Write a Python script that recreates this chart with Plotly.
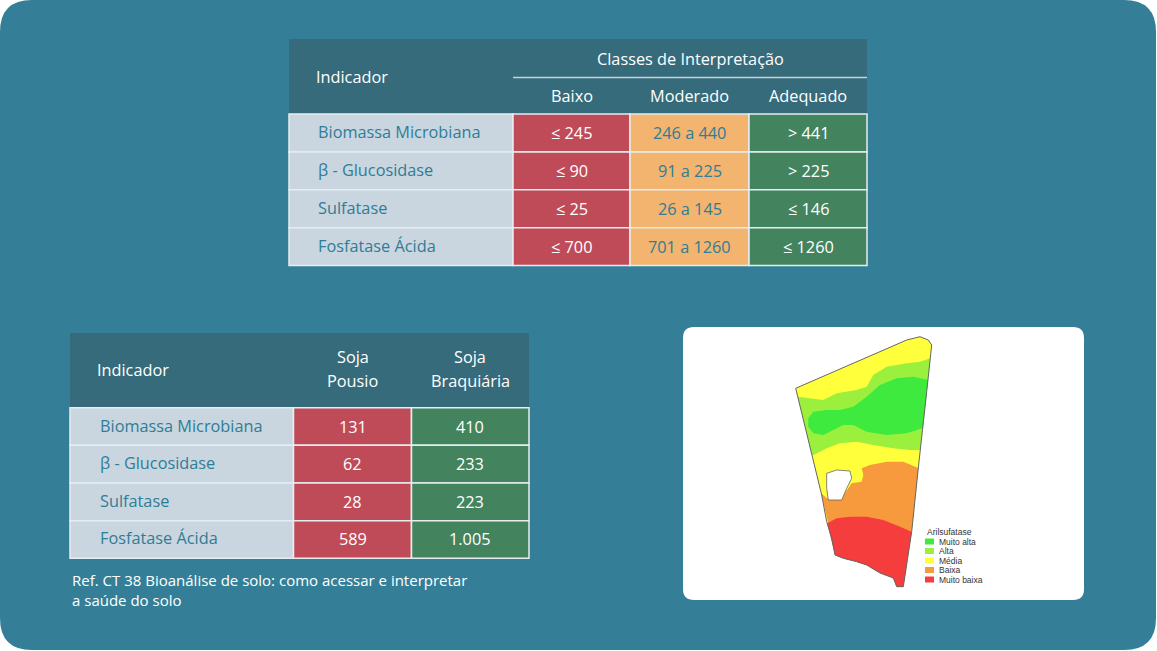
import numpy as np
import plotly.graph_objects as go

# ---- data ----
indicators = ["Biomassa Microbiana", "β - Glucosidase", "Sulfatase", "Fosfatase Ácida"]
classes = ["Baixo", "Moderado", "Adequado"]
baixo = ["≤ 245", "≤ 90", "≤ 25", "≤ 700"]
moderado = ["246 a 440", "91 a 225", "26 a 145", "701 a 1260"]
adequado = ["> 441", "> 225", "≤ 146", "≤ 1260"]
systems = [("Soja", "Pousio"), ("Soja", "Braquiária")]
soja_pousio = ["131", "62", "28", "589"]
soja_braquiaria = ["410", "233", "223", "1.005"]
map_title = "Arilsufatase"
map_classes = ["Muito alta", "Alta", "Média", "Baixa", "Muito baixa"]
reference = "Ref. CT 38 Bioanálise de solo: como acessar e interpretar<br>a saúde do solo"

# ---- map geometry (image pixels) ----
outline_left = [(795.7, 388.3), (821.7, 495), (826.7, 521.7), (831.7, 538), (835, 555)]
outline_right = [(931.7, 345), (926.7, 391.7), (918.3, 468), (911.7, 531.7), (903.3, 586.7)]
outline_top = [(795.7, 388.3), (906.7, 340), (920, 336.7), (928.3, 340), (931.7, 345)]
outline_bottom = [(903.3, 586.7), (896.7, 586.7), (893.3, 578), (880, 573), (866.7, 565),
                  (856.7, 561.7), (843.3, 558.3), (835, 555)]
lgreen_top = [(823.3, 400), (836.7, 393.3), (856.7, 390), (866.7, 386.7), (873.3, 375),
              (886.7, 366.7), (906.7, 363.3), (920, 361.7)]
lgreen_bottom = [(910, 450), (893.3, 448.3), (873.3, 445), (856.7, 441.7), (840, 443.3), (826.7, 448.3)]
green_blob = [(808.3, 418.3), (813.3, 411.7), (826.7, 410), (840, 410), (853.3, 406.7), (866.7, 396.7),
              (880, 385), (896.7, 378.3), (913.3, 376.7), (928, 380), (923, 428), (906.7, 433.3),
              (886.7, 435), (866.7, 431.7), (853.3, 425), (843.3, 425), (833.3, 430), (823.3, 435),
              (813.3, 433.3), (808.3, 426.7)]
orange_top = [(826.7, 498.3), (840, 500), (851.7, 483.3), (861.7, 481.7), (863.3, 475), (861.7, 468.3),
              (870, 465), (886.7, 461.7), (903.3, 461.7)]
red_top = [(836.7, 518.3), (850, 516.7), (866.7, 516.7), (883.3, 520), (900, 526.7)]
hole = [(826.7, 473.3), (836.7, 470), (850, 471), (851.7, 478.3), (846.7, 488.3), (841.7, 500),
        (828.3, 500), (826.7, 488.3)]

W, H = 1157, 651
TEAL = "#347f97"
HEAD = "#366b7b"
LIGHT = "#c9d5df"
TXT = "#2f7d97"
RED = "#c04b58"
ORANGE = "#f2b46e"
GREEN = "#43845f"
GRID = "#e6edf1"
FONT = "Open Sans"
FS = 16.3
map_colors = ["#3dea3d", "#9af03c", "#ffff3c", "#f7993d", "#f53d3d"]

shapes = []
annotations = []


def rounded(x0, y0, x1, y1, r):
    return (f"M {x0+r},{y0} L {x1-r},{y0} Q {x1},{y0} {x1},{y0+r} L {x1},{y1-r} Q {x1},{y1} {x1-r},{y1} "
            f"L {x0+r},{y1} Q {x0},{y1} {x0},{y1-r} L {x0},{y0+r} Q {x0},{y0} {x0+r},{y0} Z")


def poly(pts):
    return "M " + " L ".join(f"{x:.1f},{y:.1f}" for x, y in pts) + " Z"


def rect(x0, y0, x1, y1, fill, line=None, width=0):
    shapes.append(dict(type="rect", x0=x0, y0=y0, x1=x1, y1=y1, fillcolor=fill,
                       line=dict(color=line or fill, width=width), layer="above"))


def text(x, y, s, color="white", size=FS, xanchor="center", align="center"):
    annotations.append(dict(x=x, y=y, text=s, showarrow=False, xanchor=xanchor, yanchor="middle",
                            align=align, font=dict(family=FONT, size=size, color=color)))


# background panel
shapes.append(dict(type="path", path=rounded(0, 0, 1156, 650, 32), fillcolor=TEAL, line=dict(width=0),
                   layer="above"))

# ---- top table ----
tx = [289, 513, 630, 749, 867]
ty_head, ty0, rh = 39, 114, 37.9
rect(tx[0], ty_head, tx[-1], ty0, HEAD)
shapes.append(dict(type="line", x0=tx[1], x1=tx[-1], y0=77.5, y1=77.5, line=dict(color="#c4d3da", width=1.5),
                   layer="above"))
text(tx[0] + 25, 77, "Indicador", xanchor="left")
text((tx[1] + tx[-1]) / 2, 59, "Classes de Interpretação")
for j, c in enumerate(classes):
    text((tx[j + 1] + tx[j + 2]) / 2, 96, c)
cols = [(baixo, RED, "white"), (moderado, ORANGE, TXT), (adequado, GREEN, "white")]
for i, ind in enumerate(indicators):
    y0 = ty0 + i * rh
    rect(tx[0], y0, tx[1], y0 + rh, LIGHT, GRID, 1.5)
    text(tx[0] + 27, y0 + rh / 2 - 1, ind, color=TXT, xanchor="left")
    for j, (vals, fill, fc) in enumerate(cols):
        rect(tx[j + 1], y0, tx[j + 2], y0 + rh, fill, GRID, 1.5)
        text((tx[j + 1] + tx[j + 2]) / 2, y0 + rh / 2, vals[i], color=fc)

# ---- bottom table ----
bx = [70, 293.5, 411.5, 529]
by_head, by0, brh = 333, 407.7, 37.65
rect(bx[0], by_head, bx[-1], by0, HEAD)
text(bx[0] + 25, 370, "Indicador", xanchor="left")
for j, (l1, l2) in enumerate(systems):
    text((bx[j + 1] + bx[j + 2]) / 2, 357, l1)
    text((bx[j + 1] + bx[j + 2]) / 2, 381, l2)
bcols = [(soja_pousio, RED), (soja_braquiaria, GREEN)]
for i, ind in enumerate(indicators):
    y0 = by0 + i * brh
    rect(bx[0], y0, bx[1], y0 + brh, LIGHT, GRID, 1.5)
    text(bx[0] + 28, y0 + brh / 2 - 1, ind, color=TXT, xanchor="left")
    for j, (vals, fill) in enumerate(bcols):
        rect(bx[j + 1], y0, bx[j + 2], y0 + brh, fill, GRID, 1.5)
        text((bx[j + 1] + bx[j + 2]) / 2, y0 + brh / 2, vals[i])
text(bx[0], 590, reference, xanchor="left", align="left", size=15)

# ---- map panel ----
shapes.append(dict(type="path", path=rounded(683, 327, 1084, 600, 11), fillcolor="white", line=dict(width=0),
                   layer="above"))
lx = [p[0] for p in outline_left]
ly = [p[1] for p in outline_left]
rx = [p[0] for p in outline_right]
ry = [p[1] for p in outline_right]


def left_at(y):
    return (float(np.interp(y, ly, lx)), y)


def right_at(y):
    return (float(np.interp(y, ry, rx)), y)


field = outline_top + outline_right[1:] + outline_bottom[1:] + outline_left[::-1][1:]

# yellow base
shapes.append(dict(type="path", path=poly(field), fillcolor=map_colors[2], line=dict(width=0), layer="above"))
# light green band
lg = [left_at(396.7)] + lgreen_top + [right_at(358.3), right_at(450)] + lgreen_bottom + [left_at(455.7)]
shapes.append(dict(type="path", path=poly(lg), fillcolor=map_colors[1], line=dict(width=0), layer="above"))
# bright green
shapes.append(dict(type="path", path=poly(green_blob), fillcolor=map_colors[0], line=dict(width=0), layer="above"))
# orange
og = [left_at(493.3)] + orange_top + [right_at(468)] + outline_right[3:] + outline_bottom[1:] + outline_left[::-1][1:2]
shapes.append(dict(type="path", path=poly(og), fillcolor=map_colors[3], line=dict(width=0), layer="above"))
# red
rd = [left_at(523.3)] + red_top + [right_at(531.7)] + outline_right[4:] + outline_bottom[1:]
shapes.append(dict(type="path", path=poly(rd), fillcolor=map_colors[4], line=dict(width=0), layer="above"))
# hole
shapes.append(dict(type="path", path=poly(hole), fillcolor="white", line=dict(color="#666", width=0.8),
                   layer="above"))
# outline
shapes.append(dict(type="path", path=poly(field), fillcolor="rgba(0,0,0,0)", line=dict(color="#666", width=1),
                   layer="above"))

# legend
annotations.append(dict(x=925, y=531.5, text=map_title, showarrow=False, xanchor="left", yanchor="middle",
                        font=dict(family="Liberation Sans", size=8.5, color="#333")))
for k, (name, col) in enumerate(zip(map_classes, map_colors)):
    yc = 541.5 + k * 9.5
    rect(925, yc - 3, 934, yc + 3, col)
    annotations.append(dict(x=936.5, y=yc, text=name, showarrow=False, xanchor="left", yanchor="middle",
                            font=dict(family="Liberation Sans", size=8.5, color="#333")))

fig = go.Figure()
fig.add_trace(go.Scatter(x=[0, W], y=[0, H], mode="markers", marker=dict(opacity=0), hoverinfo="skip",
                         showlegend=False))
fig.update_layout(
    width=W, height=H, margin=dict(l=0, r=0, t=0, b=0),
    paper_bgcolor="white", plot_bgcolor="white",
    xaxis=dict(range=[0, W], visible=False, fixedrange=True),
    yaxis=dict(range=[H, 0], visible=False, fixedrange=True),
    shapes=shapes, annotations=annotations, showlegend=False,
)
fig.write_html("out.html", config={"displayModeBar": False},
               post_script="document.body.style.margin='0';document.body.style.overflow='hidden';")
